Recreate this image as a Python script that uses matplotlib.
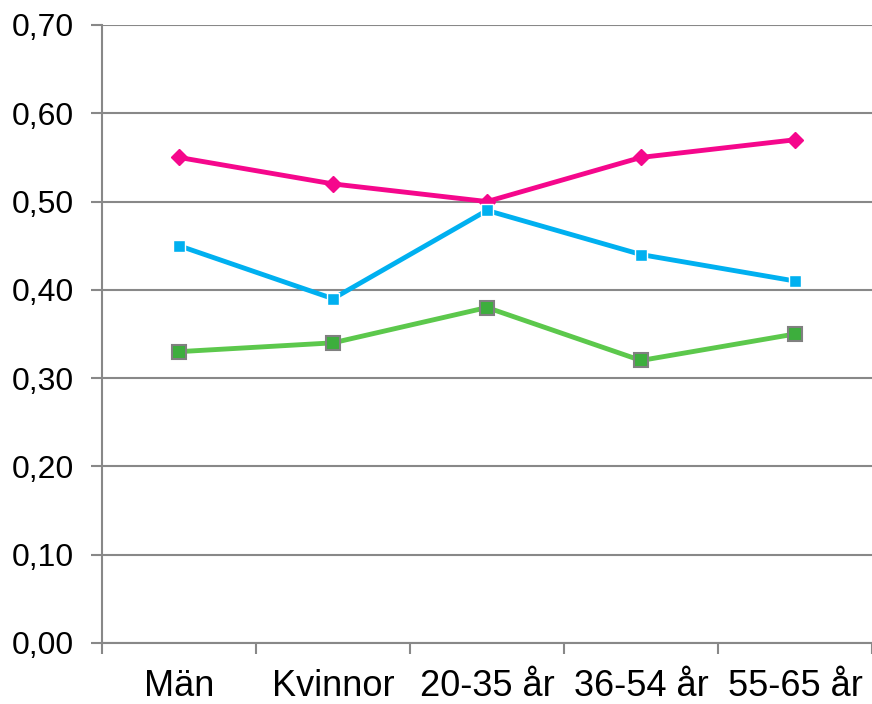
import matplotlib.pyplot as plt
from matplotlib.ticker import FuncFormatter

plt.rcParams['font.family'] = ['Liberation Sans', 'DejaVu Sans']

# --- data ---
categories = ['Män', 'Kvinnor', '20-35 år', '36-54 år', '55-65 år']
pink_vals = [0.55, 0.52, 0.50, 0.55, 0.57]
blue_vals = [0.45, 0.39, 0.49, 0.44, 0.41]
green_vals = [0.33, 0.34, 0.38, 0.32, 0.35]
y_ticks = [0.0, 0.1, 0.2, 0.3, 0.4, 0.5, 0.6, 0.7]

fig = plt.figure(figsize=(8.72, 7.04), dpi=100)
ax = fig.add_axes([102 / 872, 1 - 643 / 704, 770 / 872, 618 / 704])

x = list(range(len(categories)))
grid_col = '#888888'

ax.plot(x, pink_vals, color='#F5078C', lw=3.5, marker='D', ms=8,
        mfc='#F5078C', mec='#F5078C', zorder=3)
ax.plot(x, blue_vals, color='#00B0F0', lw=3.5, marker='s', ms=8.5,
        mfc='#00B0F0', mec='white', mew=1, zorder=4)
ax.plot(x, green_vals, color='#5CC84C', lw=3.5, marker='s', ms=10,
        mfc='#3DAE3D', mec='#808080', mew=1.5, zorder=5)

ax.set_xlim(-0.5, len(categories) - 0.5)
ax.set_ylim(0, 0.7)
ax.set_yticks(y_ticks)
ax.yaxis.set_major_formatter(FuncFormatter(lambda v, p: f'{v:.2f}'.replace('.', ',')))
# category boundaries carry the tick marks, category centres carry the labels
ax.set_xticks([i + 0.5 for i in range(-1, len(categories))], minor=False)
ax.set_xticklabels([])
ax.set_xticks(x, minor=True)
ax.set_xticklabels(categories, minor=True)

ax.tick_params(axis='x', which='major', length=8, width=1.5, color=grid_col)
ax.tick_params(axis='x', which='minor', length=0, pad=19, labelsize=26)
ax.tick_params(axis='y', length=8, width=1.5, color=grid_col, pad=12.5, labelsize=23)

ax.grid(axis='y', color=grid_col, lw=1.5)
ax.set_axisbelow(True)
for s in ['top', 'right']:
    ax.spines[s].set_visible(False)
for s in ['left', 'bottom']:
    ax.spines[s].set_color(grid_col)
    ax.spines[s].set_linewidth(1.5)

fig.savefig('out.png', dpi=100)
